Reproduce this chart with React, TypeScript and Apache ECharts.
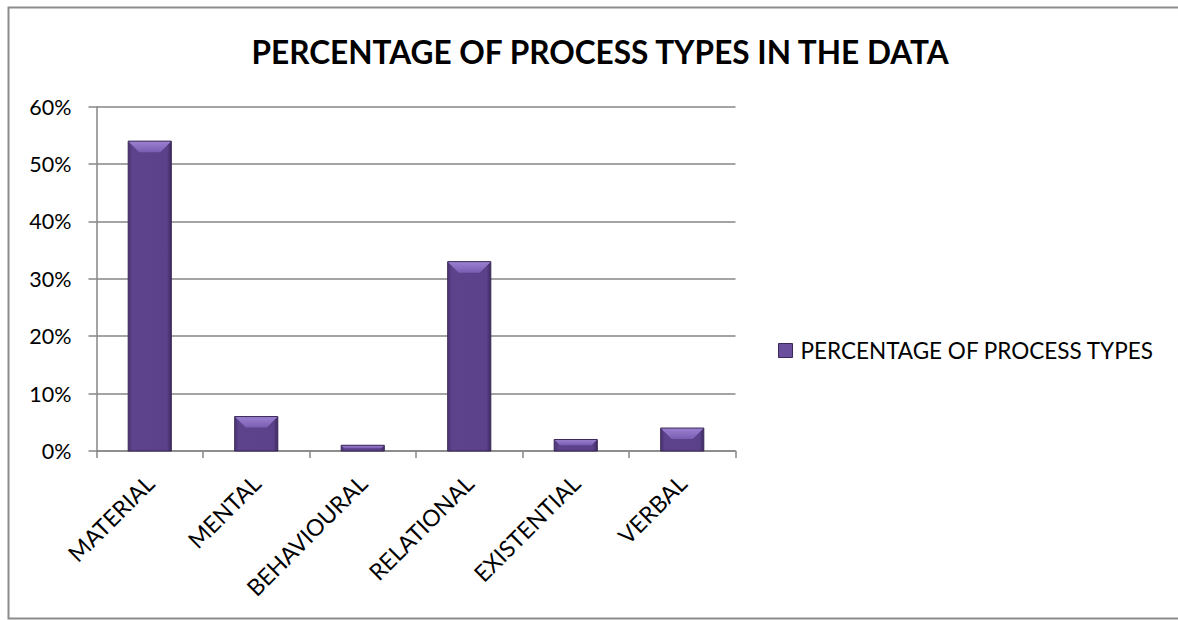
import React, { useEffect, useRef } from "react";
import * as echarts from "echarts";

const categories = ["MATERIAL", "MENTAL", "BEHAVIOURAL", "RELATIONAL", "EXISTENTIAL", "VERBAL"];
const values = [0.54, 0.06, 0.01, 0.33, 0.02, 0.04];
const seriesName = "PERCENTAGE OF PROCESS TYPES";
const titleText = "PERCENTAGE OF PROCESS TYPES IN THE DATA";

const FONT = "Lato, 'Open Sans', sans-serif";

export default function App() {
  const ref = useRef<HTMLDivElement>(null);
  useEffect(() => {
    if (!ref.current) return;
    const chart = echarts.init(ref.current, null, { renderer: "svg" });
    const renderItem = (params: any, api: any) => {
      const idx = api.value(0);
      const v = api.value(1);
      const top = api.coord([idx, v]);
      const base = api.coord([idx, 0]);
      const bw = api.size([1, 0])[0] * 0.405;
      const x0 = top[0] - bw / 2;
      const x1 = top[0] + bw / 2;
      const y0 = top[1];
      const y1 = base[1];
      const h = y1 - y0;
      const bev = Math.min(11, h / 2);
      const side = Math.min(11, bw / 3) * (bev / 11);
      return {
        type: "group",
        children: [
          {
            type: "rect",
            shape: { x: x0, y: y0, width: bw, height: h },
            style: {
              fill: new echarts.graphic.LinearGradient(0, 0, 1, 0, [
                { offset: 0, color: "#4b3474" },
                { offset: 0.1, color: "#5c438c" },
                { offset: 0.9, color: "#5a418a" },
                { offset: 1, color: "#3e2a60" },
              ]),
            },
          },
          {
            type: "polygon",
            shape: {
              points: [
                [x0, y0],
                [x1, y0],
                [x1 - side, y0 + bev],
                [x0 + side, y0 + bev],
              ],
            },
            style: {
              fill: new echarts.graphic.LinearGradient(0, 0, 0, 1, [
                { offset: 0, color: "#9c82d2" },
                { offset: 1, color: "#7a5db2" },
              ]),
            },
          },
          {
            type: "rect",
            shape: { x: x0, y: y0, width: bw, height: h },
            style: { fill: "none", stroke: "#3a2858", lineWidth: 1 },
          },
        ],
      };
    };
    chart.setOption({
      animation: false,
      textStyle: { fontFamily: FONT },
      title: {
        text: titleText,
        left: 595,
        top: 31,
        textAlign: "center",
        textStyle: { fontFamily: FONT, fontSize: 31.6, fontWeight: "bold", color: "#000" },
      },
      legend: {
        left: 773,
        top: 334,
        itemWidth: 14,
        itemHeight: 14,
        icon: "rect",
        data: [{ name: seriesName, itemStyle: { color: "#6a4f9c", borderColor: "#3a2858", borderWidth: 1 } }],
        textStyle: { fontFamily: FONT, fontSize: 22.5, color: "#000", padding: [0, 0, 0, 3] },
      },
      grid: { left: 96.5, right: 442.5, top: 106.7, bottom: 169, containLabel: false },
      xAxis: {
        type: "category",
        data: categories,
        boundaryGap: true,
        axisLine: { lineStyle: { color: "#868686", width: 1.5 } },
        axisTick: { show: true, length: 7, lineStyle: { color: "#868686", width: 1.5 } },
        axisLabel: {
          rotate: 45,
          interval: 0,
          margin: 28,
          fontSize: 23,
          color: "#000",
          fontFamily: FONT,
        },
      },
      yAxis: {
        type: "value",
        min: 0,
        max: 0.6,
        interval: 0.1,
        axisLine: { show: true, lineStyle: { color: "#868686", width: 1.5 } },
        axisTick: { show: true, length: 8, lineStyle: { color: "#868686", width: 1.5 } },
        splitLine: { show: true, lineStyle: { color: "#868686", width: 1.5 } },
        axisLabel: {
          margin: 25,
          fontSize: 21.5,
          color: "#000",
          fontFamily: FONT,
          formatter: (v: number) => Math.round(v * 100) + "%",
        },
      },
      series: [
        {
          name: seriesName,
          type: "custom",
          renderItem,
          encode: { x: 0, y: 1 },
          itemStyle: { color: "#6a4f9c" },
          data: values.map((v, i) => [i, v]),
        },
      ],
      graphic: [
        {
          type: "rect",
          shape: { x: 8.5, y: 7.5, width: 1180, height: 611 },
          style: { fill: "none", stroke: "#8c8c8c", lineWidth: 2 },
          silent: true,
        },
      ],
    });
    return () => chart.dispose();
  }, []);
  return (
    <div
      ref={ref}
      style={{ position: "absolute", left: 0, top: 0, width: 1178, height: 620, background: "#fff" }}
    />
  );
}
